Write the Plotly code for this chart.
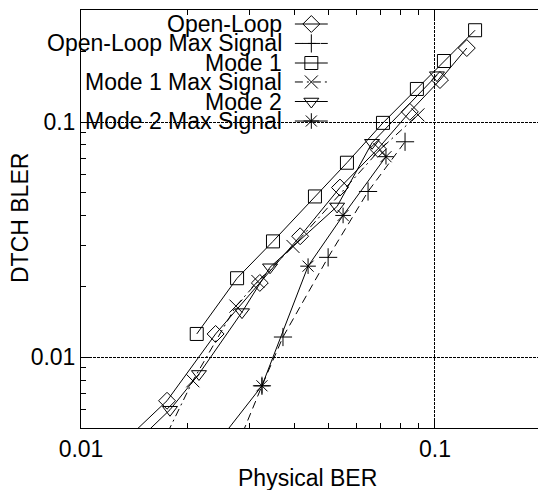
import plotly.graph_objects as go

# Physical BER (x) and DTCH BLER (y) for each transmit-diversity scheme
ol_ber = [0.0122, 0.0175, 0.0240, 0.0320, 0.0416, 0.0539, 0.0690, 0.0849, 0.1033, 0.123]
ol_bler = [0.0039, 0.00653, 0.01256, 0.0207, 0.0327, 0.0527, 0.077, 0.1106, 0.151, 0.2066]

olmax_ber = [0.0260, 0.03245, 0.0372, 0.0499, 0.0647, 0.0823]
olmax_bler = [0.00336, 0.00756, 0.01219, 0.0266, 0.0507, 0.0825]

m1_ber = [0.02123, 0.0276, 0.03486, 0.0458, 0.0564, 0.0713, 0.0889, 0.106, 0.1298]
m1_bler = [0.01256, 0.02168, 0.0311, 0.0483, 0.0672, 0.0993, 0.1384, 0.182, 0.246]

m1max_ber = [0.0167, 0.0207, 0.0274, 0.0316, 0.0397, 0.0699, 0.0895]
m1max_bler = [0.00409, 0.00794, 0.0165, 0.021, 0.0296, 0.0764, 0.1074]

m2_ber = [0.0142, 0.01784, 0.02154, 0.0285, 0.0342, 0.0529, 0.0664, 0.1013]
m2_bler = [0.0043, 0.00598, 0.00849, 0.01556, 0.02414, 0.0438, 0.0817, 0.1584]

m2max_ber = [0.0213, 0.03245, 0.0438, 0.0550, 0.0727]
m2max_bler = [0.00336, 0.00756, 0.0244, 0.0401, 0.0713]

major_ticks = [0.01, 0.1]
major_labels = ["0.01", "0.1"]

names = ["Open-Loop", "Open-Loop Max Signal", "Mode 1",
         "Mode 1 Max Signal", "Mode 2", "Mode 2 Max Signal"]
symbols = ["diamond-open", "cross-thin-open", "square-open",
           "x-thin-open", "triangle-down-open", "asterisk-open"]
dashes = ["solid", "8px,5px", "solid", "8px,4px,2px,4px", "solid", "solid"]
series = [(ol_ber, ol_bler), (olmax_ber, olmax_bler), (m1_ber, m1_bler),
          (m1max_ber, m1max_bler), (m2_ber, m2_bler), (m2max_ber, m2max_bler)]

FONT = "Liberation Sans, Arial, sans-serif"
FS = 23

# every log tick (1..9 of each decade); only decades carry a label
all_ticks = [m * 10.0 ** e for e in range(-3, 0) for m in range(1, 10)]
all_labels = [major_labels[major_ticks.index(round(t, 6))]
              if round(t, 6) in major_ticks else "" for t in all_ticks]

fig = go.Figure()
for (xs, ys), name, sym, dash in zip(series, names, symbols, dashes):
    fig.add_trace(go.Scatter(
        x=xs, y=ys, mode="lines+markers", name=name, showlegend=False,
        line=dict(color="black", width=1, dash=dash),
        marker=dict(symbol=sym, size=13, color="black",
                    line=dict(color="black", width=1)),
        cliponaxis=True,
    ))

# placeholder trace so the decade grid axes get drawn
fig.add_trace(go.Scatter(
    x=major_ticks, y=major_ticks, xaxis="x3", yaxis="y3", mode="markers",
    marker=dict(opacity=0), showlegend=False, hoverinfo="skip",
))

# key drawn gnuplot-style: right-aligned text followed by a line sample
key_rows = [0.9665, 0.920, 0.8732, 0.8278, 0.7811, 0.7344]
for name, sym, dash, ky in zip(names, symbols, dashes, key_rows):
    fig.add_trace(go.Scatter(
        x=[0.468, 0.540], y=[ky, ky], xaxis="x2", yaxis="y2",
        mode="lines", showlegend=False, hoverinfo="skip",
        line=dict(color="black", width=1, dash=dash),
    ))
    fig.add_trace(go.Scatter(
        x=[0.504], y=[ky], xaxis="x2", yaxis="y2",
        mode="markers", showlegend=False, hoverinfo="skip",
        marker=dict(symbol=sym, size=13, color="black",
                    line=dict(color="black", width=1)),
    ))
    fig.add_annotation(
        x=0.444, y=ky, xref="x2", yref="y2", text=name, showarrow=False,
        xanchor="right", yanchor="middle",
        font=dict(family=FONT, size=FS, color="black"),
    )

# axis titles
fig.add_annotation(
    x=-0.1335, y=0.5024, xref="paper", yref="paper", text="DTCH BLER",
    textangle=-90, showarrow=False, xanchor="center", yanchor="middle",
    font=dict(family=FONT, size=FS, color="black"),
)
fig.add_annotation(
    x=0.4967, y=-0.1196, xref="paper", yref="paper", text="Physical BER",
    showarrow=False, xanchor="center", yanchor="middle",
    font=dict(family=FONT, size=FS, color="black"),
)

# opaque key background hides the grid behind the labels
fig.add_shape(type="rect", xref="paper", yref="paper",
              x0=0, x1=0.556, y0=0.708, y1=1,
              fillcolor="white", line=dict(width=0), layer="between")

# main axes: short ticks at every log step, labels at decades
tick_axis = dict(
    type="log", showline=True, linecolor="black", linewidth=1,
    ticks="inside", ticklen=5, tickcolor="black", tickwidth=1,
    showgrid=False, zeroline=False, automargin=False,
    tickmode="array", tickvals=all_ticks, ticktext=all_labels,
    tickfont=dict(family=FONT, size=FS, color="black"),
)
# overlay axes: decade grid lines and long ticks
grid_axis = dict(
    type="log", showline=False, showticklabels=False,
    ticks="inside", ticklen=9, tickcolor="black", tickwidth=1,
    showgrid=True, gridcolor="black", gridwidth=1, griddash="3px,1px",
    zeroline=False, automargin=False, tickmode="array", tickvals=major_ticks,
    fixedrange=True,
)

x_range = [-2, -0.709]
y_range = [-2.301, -0.523]

fig.update_layout(
    width=538, height=490,
    margin=dict(l=81, r=0, t=10, b=62),
    paper_bgcolor="white", plot_bgcolor="white",
    xaxis=dict(**tick_axis, range=x_range, mirror="ticks"),
    yaxis=dict(**tick_axis, range=y_range, mirror=False),
    xaxis3=dict(**grid_axis, range=x_range, overlaying="x", mirror="ticks"),
    yaxis3=dict(**grid_axis, range=y_range, overlaying="y", mirror=False),
    xaxis2=dict(overlaying="x", range=[0, 1], visible=False, fixedrange=True),
    yaxis2=dict(overlaying="y", range=[0, 1], visible=False, fixedrange=True),
    showlegend=False,
)

fig.write_html("out.html")
